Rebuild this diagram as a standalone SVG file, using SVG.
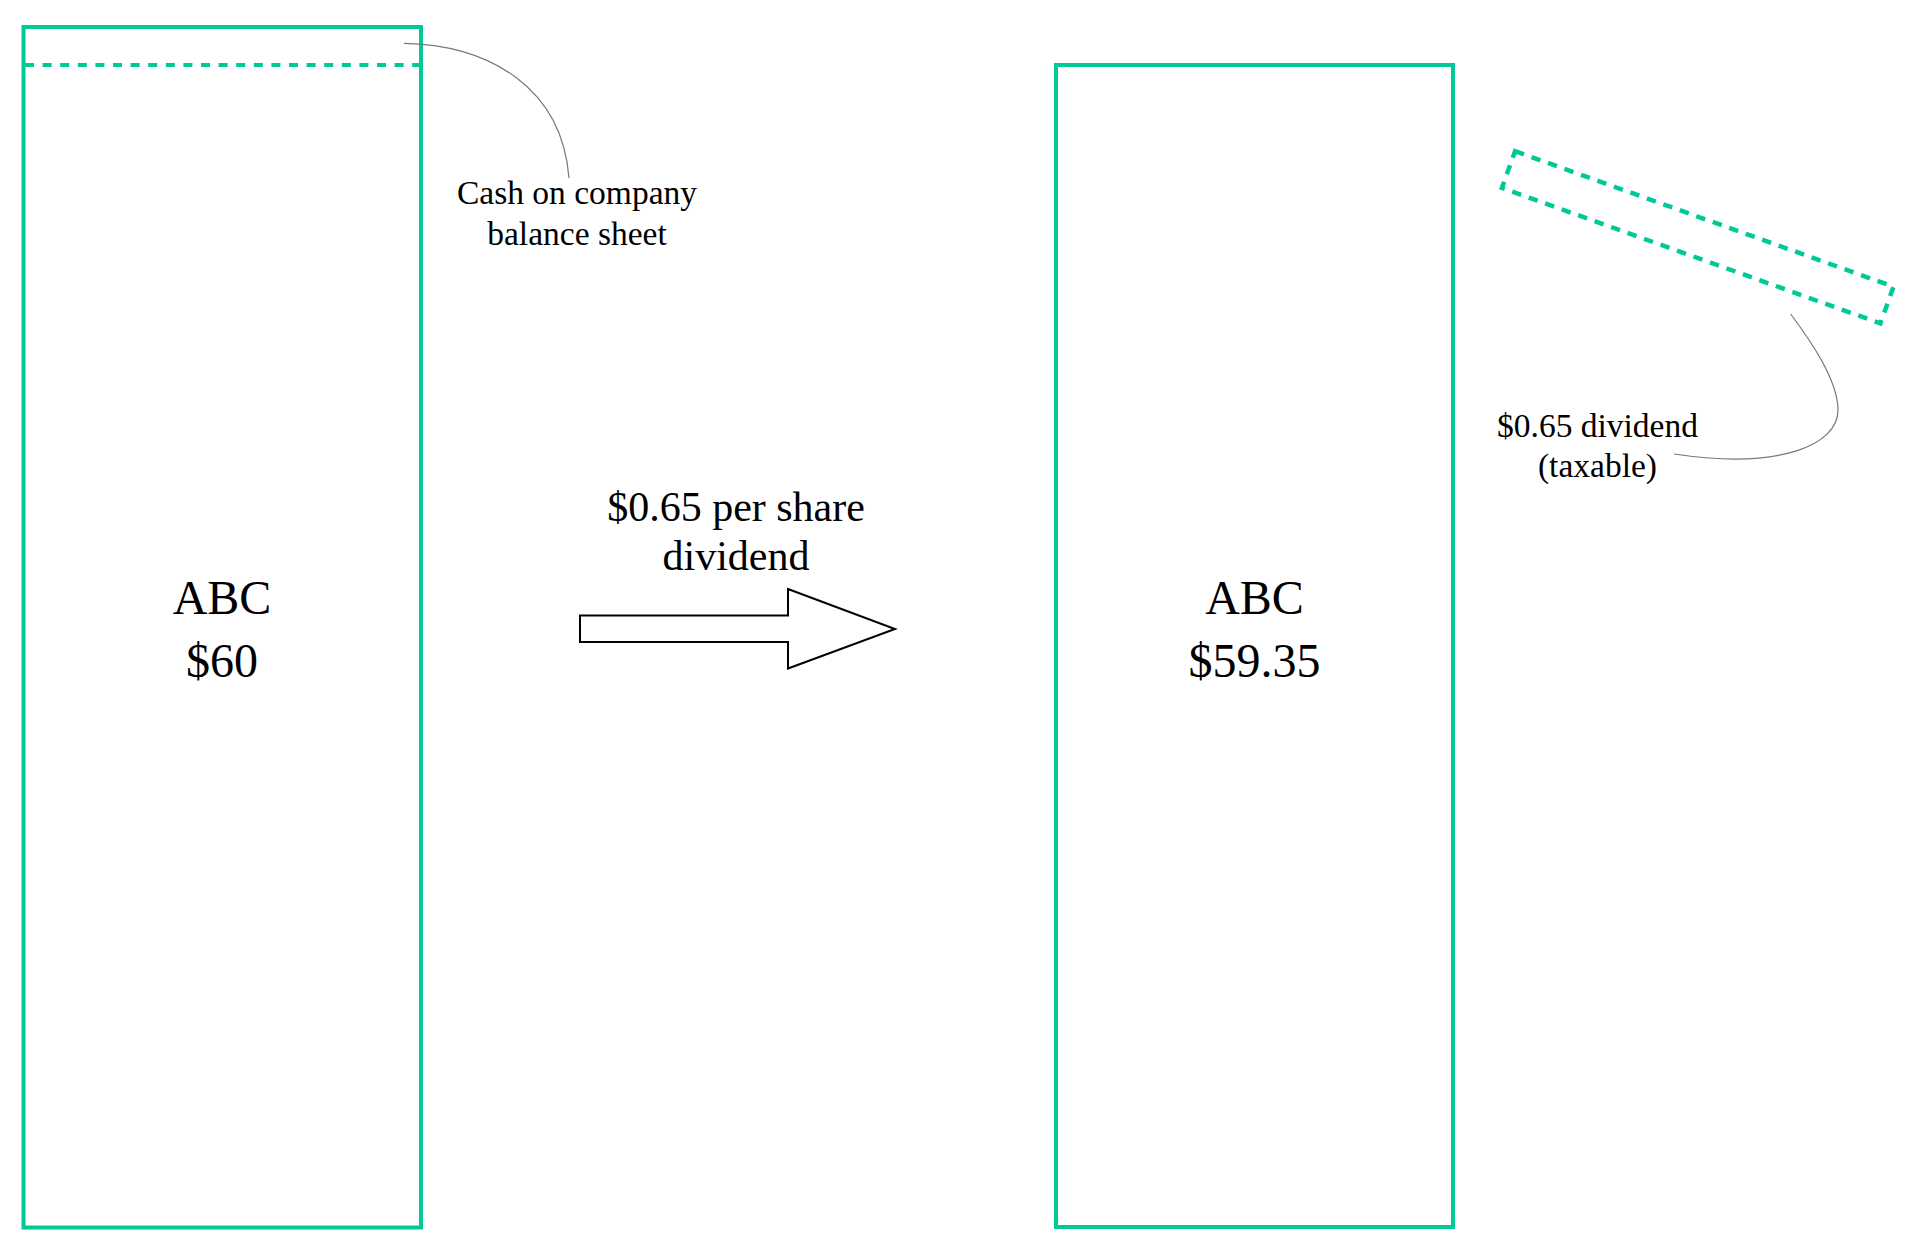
<svg xmlns="http://www.w3.org/2000/svg" width="1918" height="1250" viewBox="0 0 1918 1250">
<style>
.box{fill:none;stroke:#00C998;stroke-width:4}
.dash{fill:none;stroke:#00C998;stroke-width:4;stroke-dasharray:9 8.6}
.dash2{fill:none;stroke:#00C998;stroke-width:4.5;stroke-dasharray:9.5 8}
.lead{fill:none;stroke:#777;stroke-width:1.2}
.t{font-family:"Liberation Serif","Times New Roman",serif;fill:#000;text-anchor:middle}
.big{font-size:48px}
.mid{font-size:42px}
.sm{font-size:33.5px}
</style>
<rect width="1918" height="1250" fill="#fff"/>
<g id="abc-before">
<rect class="box" x="23.5" y="27" width="397.5" height="1200.5"/>
<line class="dash" x1="25" y1="65" x2="420" y2="65"/>
<text class="t big" x="222" y="614">ABC</text>
<text class="t big" x="222" y="677">$60</text>
</g>
<g id="abc-after">
<rect class="box" x="1056" y="65" width="397" height="1162"/>
<text class="t big" x="1254.5" y="614">ABC</text>
<text class="t big" x="1254.5" y="677">$59.35</text>
</g>
<g id="dividend-piece">
<rect class="dash2" x="-201" y="-19.5" width="402" height="39" transform="translate(1697.7,237.3) rotate(19.7)"/>
</g>
<g id="label-cash">
<text class="t sm" x="577" y="204">Cash on company</text>
<text class="t sm" x="577" y="245">balance sheet</text>
</g>
<g id="label-dividend">
<text class="t sm" x="1597.5" y="436.5">$0.65 dividend</text>
<text class="t sm" x="1597.5" y="476.5">(taxable)</text>
</g>
<g id="transition">
<polygon points="580,615.5 788,615.5 788,589 895,629 788,668.5 788,642 580,642" fill="#fff" stroke="#000" stroke-width="2"/>
<text class="t mid" x="736" y="520.5">$0.65 per share</text>
<text class="t mid" x="736" y="569.5">dividend</text>
</g>
<g id="connectors">
<path class="lead" d="M404,43.3 C490,45 562,88 569,178"/>
<path class="lead" d="M1790.7,314 C1810,340 1838,380 1838,410 C1838,445 1780,470 1674,454"/>
</g>
</svg>
